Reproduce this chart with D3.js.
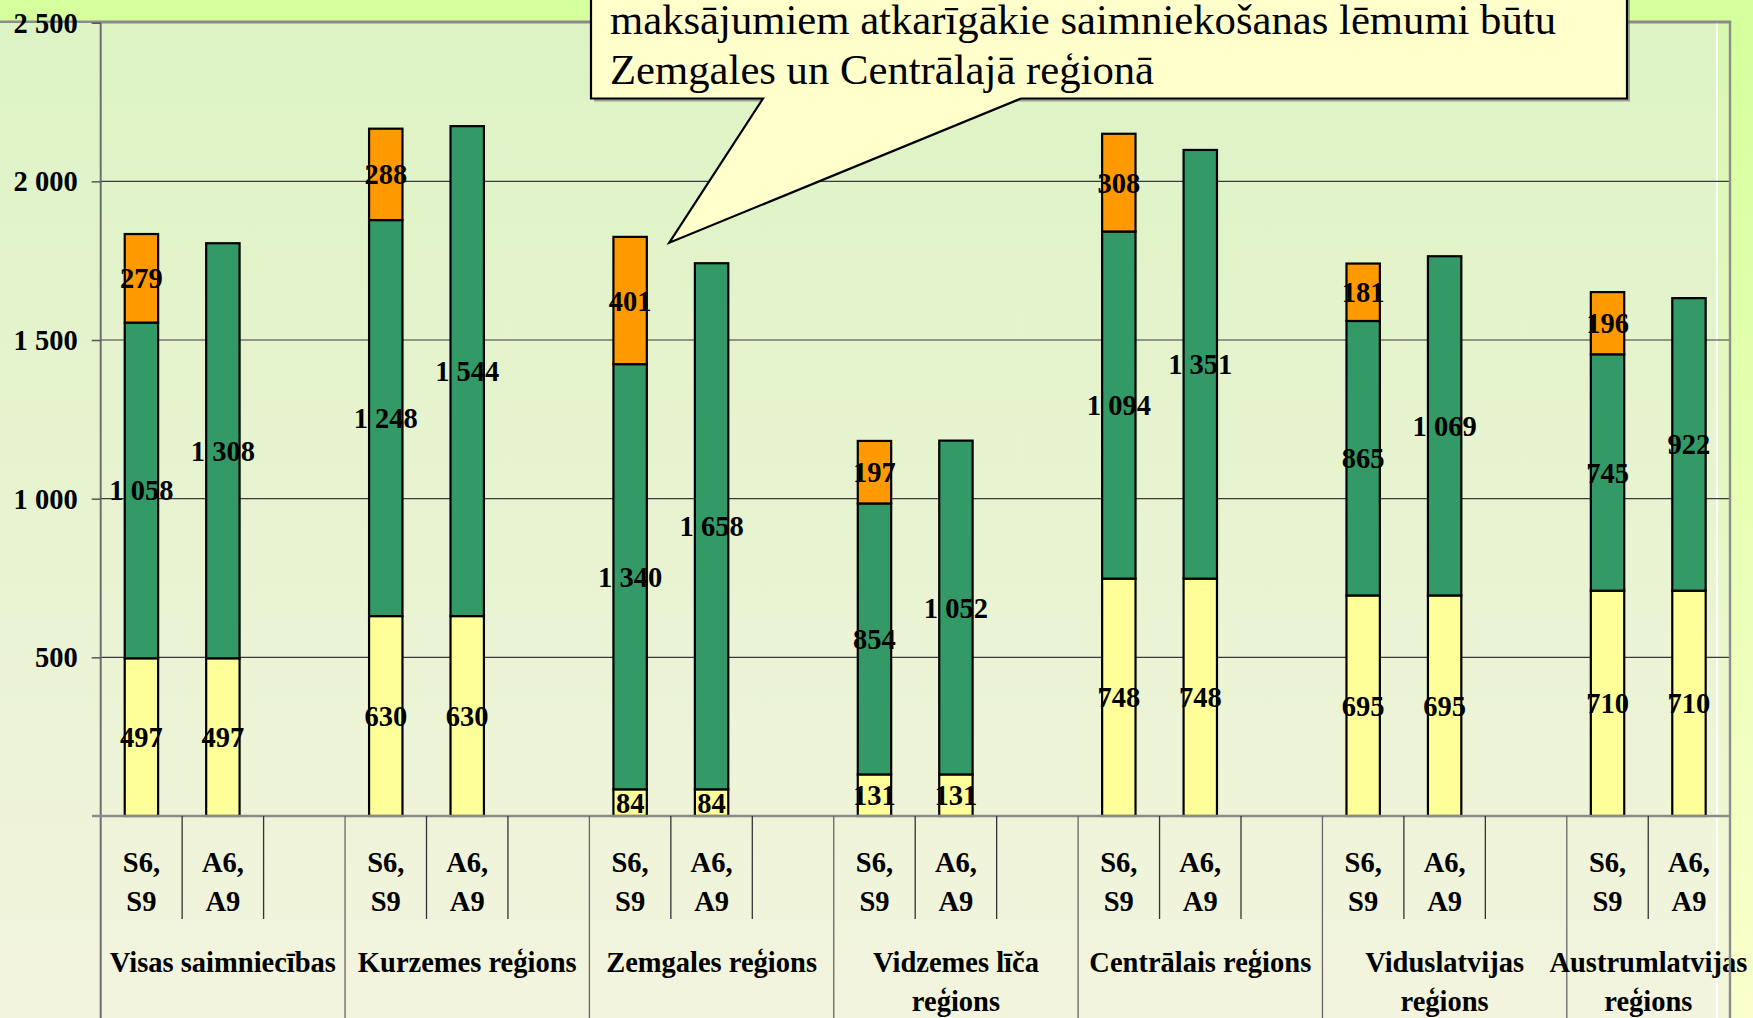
<!DOCTYPE html>
<html>
<head>
<meta charset="utf-8">
<script src="https://cdn.jsdelivr.net/npm/d3@7"></script>
<style>
  html, body { margin: 0; padding: 0; overflow: hidden; }
  svg { display: block; }
</style>
</head>
<body>
<script>
// ---------------- DATA ----------------
const groups = ["Visas saimniecības", "Kurzemes reģions", "Zemgales reģions", "Vidzemes līča reģions", "Centrālais reģions", "Viduslatvijas reģions", "Austrumlatvijas reģions"];
const subLabels = ["S6, S9", "A6, A9", ""];
const yellowS = [497, 630, 84, 131, 748, 695, 710];
const greenS  = [1058, 1248, 1340, 854, 1094, 865, 745];
const orangeS = [279, 288, 401, 197, 308, 181, 196];
const yellowA = [497, 630, 84, 131, 748, 695, 710];
const greenA  = [1308, 1544, 1658, 1052, 1351, 1069, 922];
const yTicks = [500, 1000, 1500, 2000, 2500];
const calloutLines = ["maksājumiem atkarīgākie saimniekošanas lēmumi būtu", "Zemgales un Centrālajā reģionā"];

// ---------------- LAYOUT ----------------
const W = 1753, H = 1018;
const axisX = 100.7, clipRight = 1730, innerRight = 1717;
const groupW = 244.35;
const y0 = 816, yTop = 22.7;
const colors = { yellow: "#ffff99", green: "#339966", orange: "#ff9900" };
const fmt = d3.formatLocale({ decimal: ",", thousands: " ", grouping: [3], currency: ["", ""] }).format(",d");
const txtFont = "'Liberation Serif', 'Times New Roman', serif";

const svg = d3.select("body").append("svg").attr("width", W).attr("height", H);
const defs = svg.append("defs");
function vgrad(id, stops) {
  const g = defs.append("linearGradient").attr("id", id).attr("x1", 0).attr("y1", 0).attr("x2", 0).attr("y2", 1);
  stops.forEach(([o, c]) => g.append("stop").attr("offset", o).attr("stop-color", c));
}
vgrad("slideBg", [[0, "#d4ff9c"], [1, "#fbffcc"]]);
vgrad("chartBg", [[0, "#ddf3c4"], [1, "#f3f4de"]]);
vgrad("bandBg", [[0, "#d8f8b0"], [1, "#f4f6da"]]);
defs.append("clipPath").attr("id", "plotClip").append("rect")
  .attr("x", 0).attr("y", 0).attr("width", clipRight).attr("height", H);

svg.append("rect").attr("width", W).attr("height", H).attr("fill", "url(#slideBg)");
svg.append("rect").attr("x", 0).attr("y", 22).attr("width", innerRight).attr("height", H - 22).attr("fill", "url(#chartBg)");
svg.append("rect").attr("x", innerRight).attr("y", 22).attr("width", clipRight - innerRight).attr("height", H - 22).attr("fill", "url(#bandBg)");
svg.append("line").attr("x1", innerRight).attr("x2", innerRight).attr("y1", 22).attr("y2", H).attr("stroke", "#ffffff").attr("stroke-width", 2);

// scales
const y = d3.scaleLinear().domain([0, 2500]).range([y0, yTop]);
const xg = d3.scaleBand().domain(groups).range([axisX, axisX + groups.length * groupW]).padding(0);
const xs = d3.scaleBand().domain(subLabels).range([0, groupW]).paddingInner(0.59).paddingOuter(0.295);

const plot = svg.append("g").attr("clip-path", "url(#plotClip)");

// gridlines
plot.append("g").selectAll("line").data(yTicks).join("line")
  .attr("x1", axisX).attr("x2", clipRight - 1)
  .attr("y1", d => y(d)).attr("y2", d => y(d))
  .attr("stroke", "#3a3a3a").attr("stroke-width", 1.2);

// bar segments
const segs = [];
groups.forEach((g, i) => {
  const sS = [["yellow", yellowS[i]], ["green", greenS[i]], ["orange", orangeS[i]]];
  const sA = [["yellow", yellowA[i]], ["green", greenA[i]]];
  [[subLabels[0], sS], [subLabels[1], sA]].forEach(([sub, list]) => {
    let acc = 0;
    list.forEach(([c, v]) => {
      segs.push({ g, sub, c, v, y0: acc, y1: acc + v });
      acc += v;
    });
  });
});

plot.append("g").selectAll("rect").data(segs).join("rect")
  .attr("x", d => xg(d.g) + xs(d.sub))
  .attr("width", xs.bandwidth())
  .attr("y", d => y(d.y1))
  .attr("height", d => y(d.y0) - y(d.y1))
  .attr("fill", d => colors[d.c])
  .attr("stroke", "#000").attr("stroke-width", 2.2);

// data labels
svg.append("g").selectAll("text").data(segs).join("text")
  .attr("x", d => xg(d.g) + xs(d.sub) + xs.bandwidth() / 2)
  .attr("y", d => y((d.y0 + d.y1) / 2) + 10)
  .attr("text-anchor", "middle")
  .attr("font-family", txtFont)
  .attr("font-weight", "bold").attr("font-size", 28.5)
  .attr("fill", "#000")
  .text(d => fmt(d.v));

// y axis line
svg.append("line").attr("x1", axisX).attr("x2", axisX).attr("y1", yTop - 1).attr("y2", H)
  .attr("stroke", "#6e6e6e").attr("stroke-width", 2);

// baseline
svg.append("line").attr("x1", 92).attr("x2", clipRight).attr("y1", y0).attr("y2", y0)
  .attr("stroke", "#8a8a8a").attr("stroke-width", 2.5);

// category axis lines
const catG = svg.append("g").attr("clip-path", "url(#plotClip)");
const bounds = [];
groups.forEach((g, i) => {
  subLabels.forEach((s, j) => {
    if (i === 0 && j === 0) return;
    bounds.push({ x: xg(g) + j * groupW / 3, long: j === 0 });
  });
});
bounds.push({ x: axisX + groups.length * groupW, long: true });
catG.selectAll("line").data(bounds).join("line")
  .attr("x1", d => d.x).attr("x2", d => d.x)
  .attr("y1", y0).attr("y2", d => d.long ? H : 919)
  .attr("stroke", d => d.long ? "#666" : "#333").attr("stroke-width", 1.3);

// sub labels
groups.forEach((g) => {
  subLabels.forEach((s) => {
    if (!s) return;
    const cx = xg(g) + xs(s) + xs.bandwidth() / 2;
    const t = svg.append("text")
      .attr("text-anchor", "middle")
      .attr("font-family", txtFont).attr("font-weight", "bold").attr("font-size", 28.5);
    s.split(" ").forEach((w, k) => {
      t.append("tspan").attr("x", cx).attr("y", 872 + k * 38.5).text(w);
    });
  });
});

// group labels with wrapping
groups.forEach((g) => {
  const left = xg(g), right = Math.min(xg(g) + groupW, clipRight);
  const cx = (left + right) / 2;
  const t = svg.append("text").attr("text-anchor", "middle")
    .attr("font-family", txtFont).attr("font-weight", "bold").attr("font-size", 28.5);
  const words = g.split(" ");
  let lines = [], cur = [];
  const probe = t.append("tspan");
  words.forEach(w => {
    const test = cur.concat([w]).join(" ");
    probe.text(test);
    if (probe.node().getComputedTextLength() > 240 && cur.length) {
      lines.push(cur.join(" "));
      cur = [w];
    } else cur.push(w);
  });
  lines.push(cur.join(" "));
  probe.remove();
  lines.forEach((ln, k) => {
    t.append("tspan").attr("x", cx).attr("y", 972 + k * 38.5).text(ln);
  });
});

// frame borders
svg.append("line").attr("x1", 0).attr("x2", clipRight + 1.2).attr("y1", 21.8).attr("y2", 21.8)
  .attr("stroke", "#8c8c8c").attr("stroke-width", 2.6);
svg.append("line").attr("x1", clipRight).attr("x2", clipRight).attr("y1", 21.8).attr("y2", H)
  .attr("stroke", "#8c8c8c").attr("stroke-width", 2.4);

// y axis ticks and labels (drawn above the frame border)
const yAxisG = svg.append("g").attr("transform", `translate(${axisX},0)`)
  .call(d3.axisLeft(y).tickValues(yTicks).tickSize(9).tickPadding(14).tickFormat(fmt));
yAxisG.select(".domain").remove();
yAxisG.selectAll(".tick line").attr("stroke", "#555").attr("stroke-width", 1.5);
yAxisG.selectAll(".tick text")
  .attr("font-family", txtFont)
  .attr("font-weight", "bold").attr("font-size", 28.5).attr("fill", "#000")
  .attr("dy", null).attr("y", 9.5).attr("x", -23);

// callout
const bx0 = 591, bx1 = 1627, by0 = -60, by1 = 98.5;
const tip = [669.3, 242.7], p1 = 763, p2 = 1021;
const calloutPath = `M${bx0},${by0} L${bx1},${by0} L${bx1},${by1} L${p2},${by1} L${tip[0]},${tip[1]} L${p1},${by1} L${bx0},${by1} Z`;
svg.append("rect").attr("x", bx0 + 3).attr("y", by0 + 3).attr("width", bx1 - bx0).attr("height", by1 - by0)
  .attr("fill", "#6f6f6f").attr("opacity", 0.6);
svg.append("path").attr("d", calloutPath).attr("fill", "#ffffcc").attr("stroke", "#000").attr("stroke-width", 2.2)
  .attr("stroke-linejoin", "miter");
calloutLines.forEach((ln, k) => {
  svg.append("text").attr("x", 610).attr("y", 34 + k * 50)
    .attr("font-family", txtFont).attr("font-size", 42.7).attr("fill", "#000").text(ln);
});
</script>
</body>
</html>
